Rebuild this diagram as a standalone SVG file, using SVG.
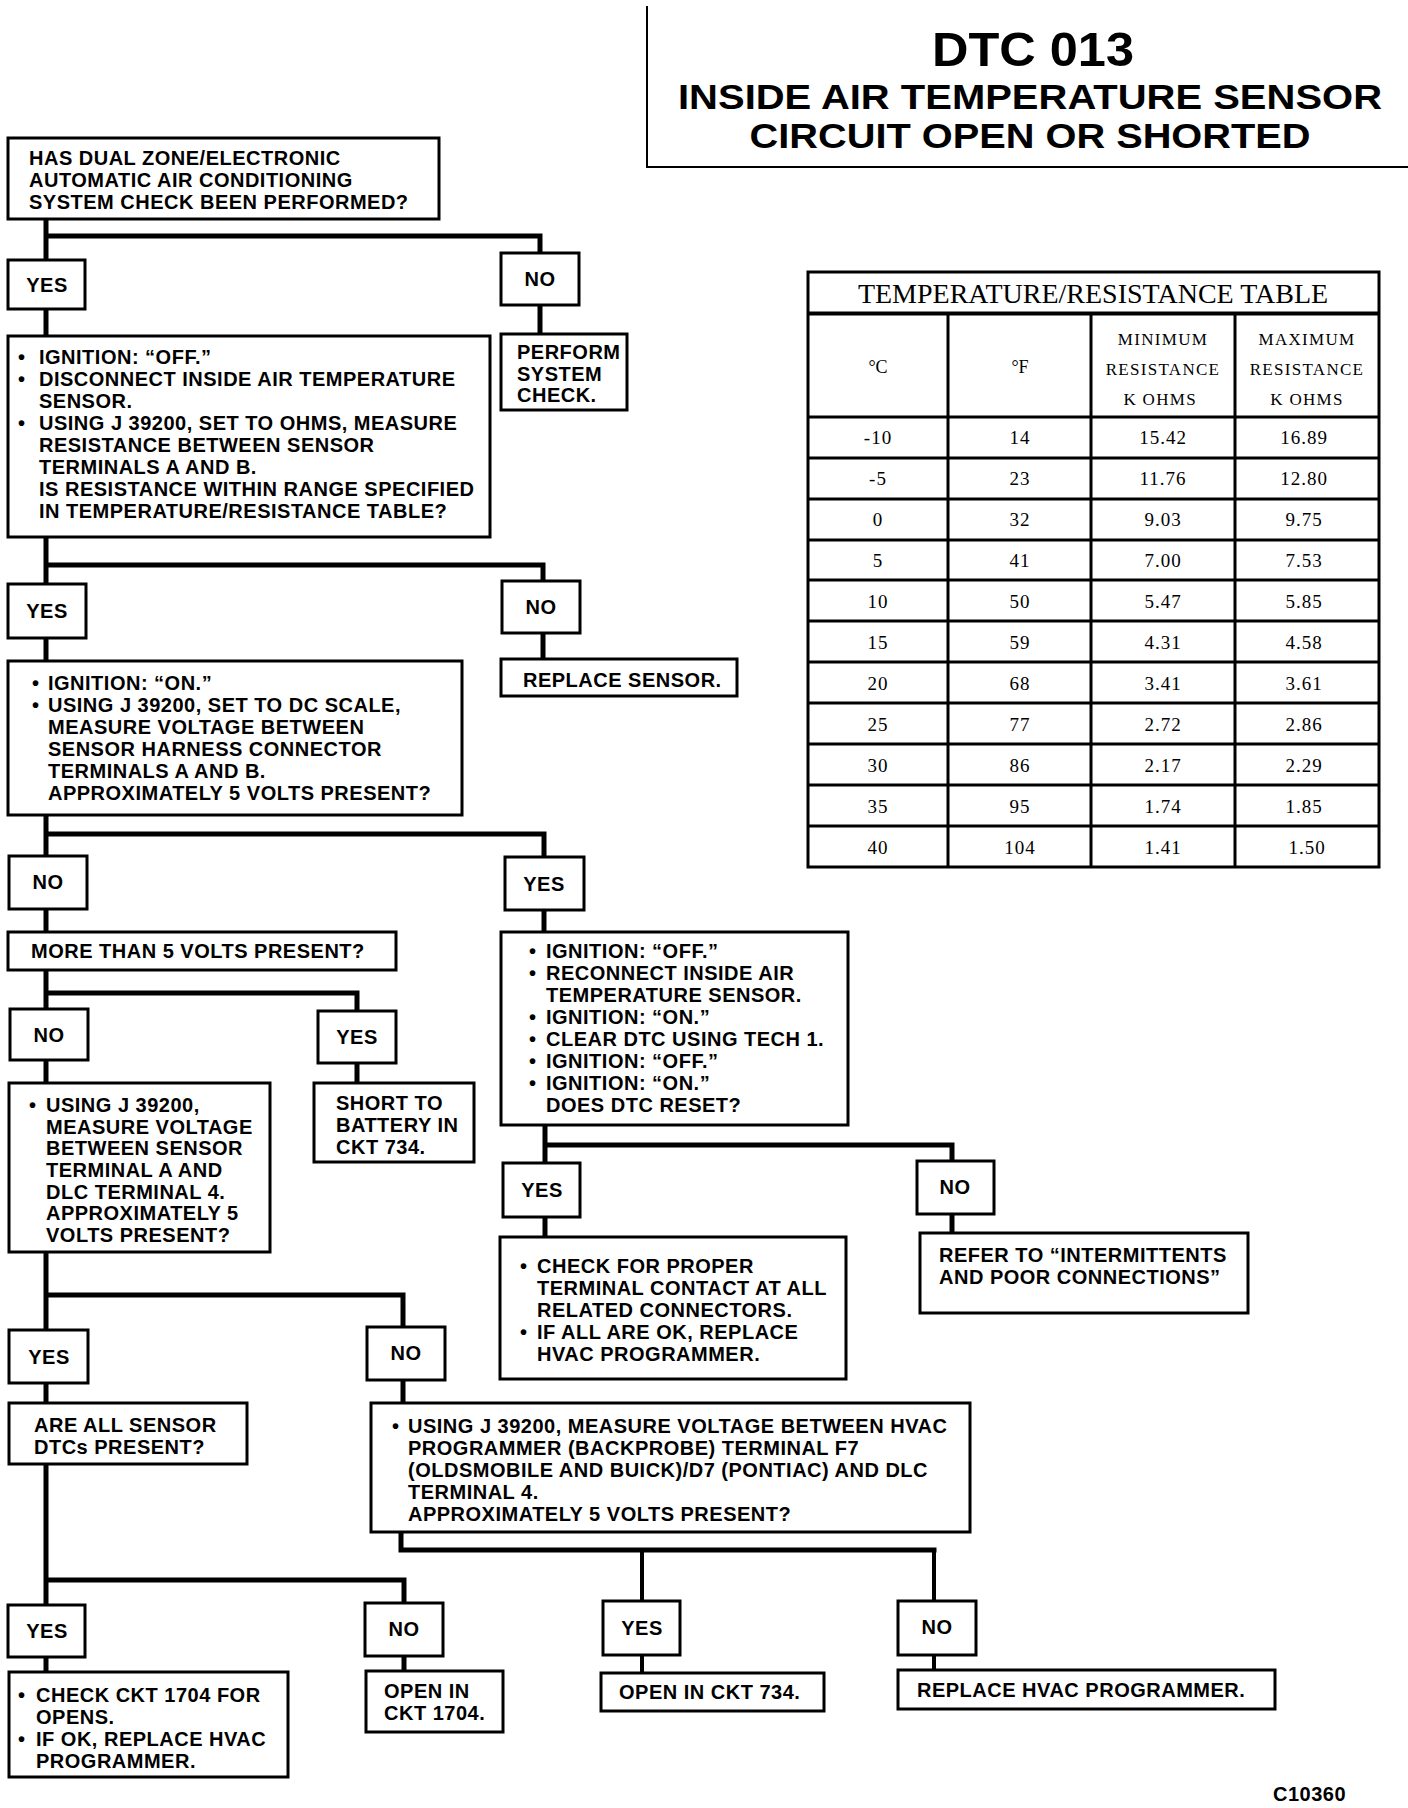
<svg xmlns="http://www.w3.org/2000/svg" width="1408" height="1808" viewBox="0 0 1408 1808">
<style>
.b{fill:#fff;stroke:#000;stroke-width:3}
.t{font-family:"Liberation Sans",Arial,Helvetica,sans-serif;font-weight:bold;font-size:20px;letter-spacing:0.5px;fill:#000}
.c{text-anchor:middle}
.w{fill:none;stroke:#000;stroke-width:5;stroke-linecap:square}
.w2{fill:none;stroke:#000;stroke-width:4;stroke-linecap:square}
.h{font-family:"Liberation Sans",Arial,Helvetica,sans-serif;font-weight:bold;fill:#000;text-anchor:middle}
.s{font-family:"Liberation Serif","Times New Roman",serif;fill:#000;text-anchor:middle}
.tl{fill:none;stroke:#000;stroke-width:3}
</style>
<rect width="1408" height="1808" fill="#fff"/>

<g id="title">
<path d="M647,6 V167 H1408" fill="none" stroke="#000" stroke-width="2"/>
<text class="h" x="1033" y="66" font-size="48" textLength="202" lengthAdjust="spacingAndGlyphs">DTC 013</text>
<text class="h" x="1030" y="108.5" font-size="35" textLength="704" lengthAdjust="spacingAndGlyphs">INSIDE AIR TEMPERATURE SENSOR</text>
<text class="h" x="1030" y="147.5" font-size="35" textLength="561" lengthAdjust="spacingAndGlyphs">CIRCUIT OPEN OR SHORTED</text>
</g>

<g id="table">
<rect class="tl" x="808" y="272" width="571" height="595"/>
<line x1="808" y1="313.5" x2="1379" y2="313.5" stroke="#000" stroke-width="4"/>
<g stroke="#000" stroke-width="3">
<line x1="808" y1="417" x2="1379" y2="417"/>
<line x1="808" y1="458" x2="1379" y2="458"/>
<line x1="808" y1="499" x2="1379" y2="499"/>
<line x1="808" y1="540" x2="1379" y2="540"/>
<line x1="808" y1="580" x2="1379" y2="580"/>
<line x1="808" y1="621" x2="1379" y2="621"/>
<line x1="808" y1="662" x2="1379" y2="662"/>
<line x1="808" y1="703" x2="1379" y2="703"/>
<line x1="808" y1="744" x2="1379" y2="744"/>
<line x1="808" y1="785" x2="1379" y2="785"/>
<line x1="808" y1="826" x2="1379" y2="826"/>
<line x1="948" y1="313" x2="948" y2="867"/>
<line x1="1091" y1="313" x2="1091" y2="867"/>
<line x1="1235" y1="313" x2="1235" y2="867"/>
</g>
<text class="s" x="1093" y="303" font-size="28">TEMPERATURE/RESISTANCE TABLE</text>
<text class="s" x="878" y="373" font-size="18">°C</text>
<text class="s" x="1020" y="373" font-size="18">°F</text>
<text class="s" font-size="17" letter-spacing="1.3">
<tspan x="1163" y="345">MINIMUM</tspan><tspan x="1163" y="375">RESISTANCE</tspan><tspan x="1163" y="405">K OHMS</tspan>
<tspan x="1307" y="345">MAXIMUM</tspan><tspan x="1307" y="375">RESISTANCE</tspan><tspan x="1307" y="405">K OHMS</tspan>
</text>
<text class="s" font-size="19" letter-spacing="1">
<tspan x="878" y="444">-10</tspan><tspan x="1020" y="444">14</tspan><tspan x="1163" y="444">15.42</tspan><tspan x="1307" y="444">16.89</tspan>
<tspan x="878" y="485">-5</tspan><tspan x="1020" y="485">23</tspan><tspan x="1163" y="485">11.76</tspan><tspan x="1307" y="485">12.80</tspan>
<tspan x="878" y="526">0</tspan><tspan x="1020" y="526">32</tspan><tspan x="1163" y="526">9.03</tspan><tspan x="1307" y="526">9.75</tspan>
<tspan x="878" y="567">5</tspan><tspan x="1020" y="567">41</tspan><tspan x="1163" y="567">7.00</tspan><tspan x="1307" y="567">7.53</tspan>
<tspan x="878" y="608">10</tspan><tspan x="1020" y="608">50</tspan><tspan x="1163" y="608">5.47</tspan><tspan x="1307" y="608">5.85</tspan>
<tspan x="878" y="649">15</tspan><tspan x="1020" y="649">59</tspan><tspan x="1163" y="649">4.31</tspan><tspan x="1307" y="649">4.58</tspan>
<tspan x="878" y="690">20</tspan><tspan x="1020" y="690">68</tspan><tspan x="1163" y="690">3.41</tspan><tspan x="1307" y="690">3.61</tspan>
<tspan x="878" y="731">25</tspan><tspan x="1020" y="731">77</tspan><tspan x="1163" y="731">2.72</tspan><tspan x="1307" y="731">2.86</tspan>
<tspan x="878" y="772">30</tspan><tspan x="1020" y="772">86</tspan><tspan x="1163" y="772">2.17</tspan><tspan x="1307" y="772">2.29</tspan>
<tspan x="878" y="813">35</tspan><tspan x="1020" y="813">95</tspan><tspan x="1163" y="813">1.74</tspan><tspan x="1307" y="813">1.85</tspan>
<tspan x="878" y="854">40</tspan><tspan x="1020" y="854">104</tspan><tspan x="1163" y="854">1.41</tspan><tspan x="1307" y="854">1.50</tspan>
</text>
</g>

<g id="connectors">
<path class="w" d="M46,219 V259 M46,236 H540 V253"/>
<path class="w" d="M46,309 V336"/>
<path class="w" d="M540,305 V334"/>
<path class="w" d="M46,537 V584 M46,565 H543 V581"/>
<path class="w" d="M46,638 V661"/>
<path class="w" d="M543,633 V659"/>
<path class="w" d="M46,815 V856 M46,834 H544 V857"/>
<path class="w" d="M46,909 V932"/>
<path class="w" d="M544,910 V932"/>
<path class="w" d="M46,970 V1009 M46,993 H357 V1011"/>
<path class="w" d="M46,1060 V1083"/>
<path class="w" d="M357,1063 V1083"/>
<path class="w" d="M46,1252 V1330 M46,1295 H403 V1327"/>
<path class="w" d="M46,1383 V1403"/>
<path class="w" d="M403,1380 V1403"/>
<path class="w" d="M46,1464 V1605 M46,1580 H404 V1603"/>
<path class="w" d="M46,1657 V1672"/>
<path class="w" d="M404,1656 V1671"/>
<path class="w" d="M401,1532 V1550 H934"/>
<path class="w2" d="M642,1550 V1601 M934,1550 V1601"/>
<path class="w2" d="M642,1655 V1673"/>
<path class="w2" d="M934,1655 V1670"/>
<path class="w" d="M545,1125 V1163 M545,1145 H952 V1161"/>
<path class="w" d="M545,1217 V1237"/>
<path class="w" d="M952,1214 V1233"/>
</g>

<g id="n-check-performed">
<rect class="b" x="8" y="138" width="431" height="81"/>
<text class="t"><tspan x="29" y="165">HAS DUAL ZONE/ELECTRONIC</tspan><tspan x="29" y="187">AUTOMATIC AIR CONDITIONING</tspan><tspan x="29" y="209">SYSTEM CHECK BEEN PERFORMED?</tspan></text>
</g>
<g id="n-yes1"><rect class="b" x="8" y="260" width="77" height="49"/><text class="t c" x="47" y="292">YES</text></g>
<g id="n-no1"><rect class="b" x="501" y="253" width="78" height="52"/><text class="t c" x="540" y="286">NO</text></g>
<g id="n-perform">
<rect class="b" x="501" y="334" width="126" height="76"/>
<text class="t"><tspan x="517" y="359">PERFORM</tspan><tspan x="517" y="381">SYSTEM</tspan><tspan x="517" y="402">CHECK.</tspan></text>
</g>
<g id="n-resistance">
<rect class="b" x="8" y="336" width="482" height="201"/>
<text class="t"><tspan x="18" y="364">•</tspan><tspan x="39" y="364">IGNITION: “OFF.”</tspan>
<tspan x="18" y="386">•</tspan><tspan x="39" y="386">DISCONNECT INSIDE AIR TEMPERATURE</tspan>
<tspan x="39" y="408">SENSOR.</tspan>
<tspan x="18" y="430">•</tspan><tspan x="39" y="430">USING J 39200, SET TO OHMS, MEASURE</tspan>
<tspan x="39" y="452">RESISTANCE BETWEEN SENSOR</tspan>
<tspan x="39" y="474">TERMINALS A AND B.</tspan>
<tspan x="39" y="496">IS RESISTANCE WITHIN RANGE SPECIFIED</tspan>
<tspan x="39" y="518">IN TEMPERATURE/RESISTANCE TABLE?</tspan></text>
</g>
<g id="n-yes2"><rect class="b" x="8" y="584" width="78" height="54"/><text class="t c" x="47" y="618">YES</text></g>
<g id="n-no2"><rect class="b" x="502" y="581" width="78" height="52"/><text class="t c" x="541" y="614">NO</text></g>
<g id="n-replace-sensor"><rect class="b" x="501" y="659" width="236" height="37"/><text class="t" x="523" y="687">REPLACE SENSOR.</text></g>
<g id="n-voltage">
<rect class="b" x="8" y="661" width="454" height="154"/>
<text class="t"><tspan x="32" y="690">•</tspan><tspan x="48" y="690">IGNITION: “ON.”</tspan>
<tspan x="32" y="712">•</tspan><tspan x="48" y="712">USING J 39200, SET TO DC SCALE,</tspan>
<tspan x="48" y="734">MEASURE VOLTAGE BETWEEN</tspan>
<tspan x="48" y="756">SENSOR HARNESS CONNECTOR</tspan>
<tspan x="48" y="778">TERMINALS A AND B.</tspan>
<tspan x="48" y="800">APPROXIMATELY 5 VOLTS PRESENT?</tspan></text>
</g>
<g id="n-no3"><rect class="b" x="9" y="856" width="78" height="53"/><text class="t c" x="48" y="889">NO</text></g>
<g id="n-yes3"><rect class="b" x="505" y="857" width="79" height="53"/><text class="t c" x="544" y="891">YES</text></g>
<g id="n-more-than"><rect class="b" x="8" y="932" width="388" height="38"/><text class="t" x="31" y="958">MORE THAN 5 VOLTS PRESENT?</text></g>
<g id="n-dtc-reset">
<rect class="b" x="501" y="932" width="347" height="193"/>
<text class="t"><tspan x="529" y="958">•</tspan><tspan x="546" y="958">IGNITION: “OFF.”</tspan>
<tspan x="529" y="980">•</tspan><tspan x="546" y="980">RECONNECT INSIDE AIR</tspan>
<tspan x="546" y="1002">TEMPERATURE SENSOR.</tspan>
<tspan x="529" y="1024">•</tspan><tspan x="546" y="1024">IGNITION: “ON.”</tspan>
<tspan x="529" y="1046">•</tspan><tspan x="546" y="1046">CLEAR DTC USING TECH 1.</tspan>
<tspan x="529" y="1068">•</tspan><tspan x="546" y="1068">IGNITION: “OFF.”</tspan>
<tspan x="529" y="1090">•</tspan><tspan x="546" y="1090">IGNITION: “ON.”</tspan>
<tspan x="546" y="1112">DOES DTC RESET?</tspan></text>
</g>
<g id="n-no5"><rect class="b" x="10" y="1009" width="78" height="51"/><text class="t c" x="49" y="1042">NO</text></g>
<g id="n-yes5"><rect class="b" x="318" y="1011" width="78" height="52"/><text class="t c" x="357" y="1044">YES</text></g>
<g id="n-sensor-dlc">
<rect class="b" x="9" y="1083" width="261" height="169"/>
<text class="t"><tspan x="29" y="1112">•</tspan><tspan x="46" y="1112">USING J 39200,</tspan>
<tspan x="46" y="1134">MEASURE VOLTAGE</tspan>
<tspan x="46" y="1155">BETWEEN SENSOR</tspan>
<tspan x="46" y="1177">TERMINAL A AND</tspan>
<tspan x="46" y="1199">DLC TERMINAL 4.</tspan>
<tspan x="46" y="1220">APPROXIMATELY 5</tspan>
<tspan x="46" y="1242">VOLTS PRESENT?</tspan></text>
</g>
<g id="n-short">
<rect class="b" x="314" y="1083" width="160" height="79"/>
<text class="t"><tspan x="336" y="1110">SHORT TO</tspan><tspan x="336" y="1132">BATTERY IN</tspan><tspan x="336" y="1154">CKT 734.</tspan></text>
</g>
<g id="n-yes4"><rect class="b" x="503" y="1163" width="77" height="54"/><text class="t c" x="542" y="1197">YES</text></g>
<g id="n-no4"><rect class="b" x="917" y="1161" width="77" height="53"/><text class="t c" x="955" y="1194">NO</text></g>
<g id="n-check-terminal">
<rect class="b" x="500" y="1237" width="346" height="142"/>
<text class="t"><tspan x="520" y="1273">•</tspan><tspan x="537" y="1273">CHECK FOR PROPER</tspan>
<tspan x="537" y="1295">TERMINAL CONTACT AT ALL</tspan>
<tspan x="537" y="1317">RELATED CONNECTORS.</tspan>
<tspan x="520" y="1339">•</tspan><tspan x="537" y="1339">IF ALL ARE OK, REPLACE</tspan>
<tspan x="537" y="1361">HVAC PROGRAMMER.</tspan></text>
</g>
<g id="n-refer">
<rect class="b" x="920" y="1233" width="328" height="80"/>
<text class="t"><tspan x="939" y="1262">REFER TO “INTERMITTENTS</tspan><tspan x="939" y="1284">AND POOR CONNECTIONS”</tspan></text>
</g>
<g id="n-yes6"><rect class="b" x="9" y="1330" width="79" height="53"/><text class="t c" x="49" y="1364">YES</text></g>
<g id="n-no6"><rect class="b" x="367" y="1327" width="78" height="53"/><text class="t c" x="406" y="1360">NO</text></g>
<g id="n-all-dtcs">
<rect class="b" x="9" y="1403" width="238" height="61"/>
<text class="t"><tspan x="34" y="1432">ARE ALL SENSOR</tspan><tspan x="34" y="1454">DTCs PRESENT?</tspan></text>
</g>
<g id="n-hvac-voltage">
<rect class="b" x="371" y="1403" width="599" height="129"/>
<text class="t"><tspan x="392" y="1433">•</tspan><tspan x="408" y="1433">USING J 39200, MEASURE VOLTAGE BETWEEN HVAC</tspan>
<tspan x="408" y="1455">PROGRAMMER (BACKPROBE) TERMINAL F7</tspan>
<tspan x="408" y="1477">(OLDSMOBILE AND BUICK)/D7 (PONTIAC) AND DLC</tspan>
<tspan x="408" y="1499">TERMINAL 4.</tspan>
<tspan x="408" y="1521">APPROXIMATELY 5 VOLTS PRESENT?</tspan></text>
</g>
<g id="n-yes7"><rect class="b" x="8" y="1605" width="77" height="52"/><text class="t c" x="47" y="1638">YES</text></g>
<g id="n-no7"><rect class="b" x="365" y="1603" width="78" height="53"/><text class="t c" x="404" y="1636">NO</text></g>
<g id="n-yes8"><rect class="b" x="603" y="1601" width="77" height="54"/><text class="t c" x="642" y="1635">YES</text></g>
<g id="n-no8"><rect class="b" x="898" y="1601" width="78" height="54"/><text class="t c" x="937" y="1634">NO</text></g>
<g id="n-check-ckt">
<rect class="b" x="9" y="1672" width="279" height="105"/>
<text class="t"><tspan x="18" y="1702">•</tspan><tspan x="36" y="1702">CHECK CKT 1704 FOR</tspan>
<tspan x="36" y="1724">OPENS.</tspan>
<tspan x="18" y="1746">•</tspan><tspan x="36" y="1746">IF OK, REPLACE HVAC</tspan>
<tspan x="36" y="1768">PROGRAMMER.</tspan></text>
</g>
<g id="n-open-1704">
<rect class="b" x="366" y="1671" width="137" height="61"/>
<text class="t"><tspan x="384" y="1698">OPEN IN</tspan><tspan x="384" y="1720">CKT 1704.</tspan></text>
</g>
<g id="n-open-734"><rect class="b" x="601" y="1673" width="223" height="38"/><text class="t" x="619" y="1699">OPEN IN CKT 734.</text></g>
<g id="n-replace-hvac"><rect class="b" x="898" y="1670" width="377" height="39"/><text class="t" x="917" y="1697">REPLACE HVAC PROGRAMMER.</text></g>
<g id="code"><text class="t" x="1273" y="1801" font-size="16" letter-spacing="0.5">C10360</text></g>
</svg>
